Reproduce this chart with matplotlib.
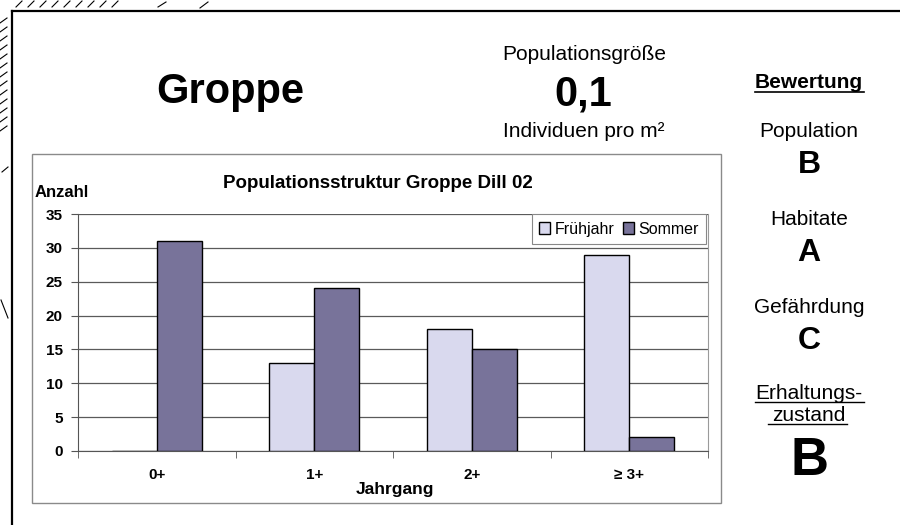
import numpy as np
import matplotlib.pyplot as plt
from matplotlib.patches import Rectangle

plt.rcParams["font.family"] = ["Liberation Sans", "DejaVu Sans"]

# Daten
jahrgang = ["0+", "1+", "2+", "≥ 3+"]
fruehjahr = [0, 13, 18, 29]
sommer = [31, 24, 15, 2]
art = "Groppe"
dichte = "0,1"
kriterien = ["Population", "Habitate", "Gefährdung"]
noten = ["B", "A", "C"]
erhaltung = "B"

W, H = 900, 525
col_f = "#d9d9ee"
col_s = "#78739a"

fig = plt.figure(figsize=(9, 5.25), dpi=100)

# Hintergrund-Achse in Pixelkoordinaten
bg = fig.add_axes([0, 0, 1, 1], zorder=0)
bg.set_xlim(0, W)
bg.set_ylim(H, 0)
bg.axis("off")

# Rahmen des Blattes
bg.plot([12, W + 5], [11, 11], color="black", lw=1.6)
bg.plot([12, 12], [11, H + 5], color="black", lw=1.6)

# Scan-Schraffur am Rand
for y in np.arange(18, 130, 9):
    bg.plot([0, 7], [y + 5, y], color="black", lw=0.8)
for x in np.arange(16, 120, 12):
    bg.plot([x, x + 6], [7, 1], color="black", lw=0.8)
bg.plot([2, 8], [172, 167], color="black", lw=0.8)
bg.plot([1, 8], [300, 318], color="black", lw=0.8)
bg.plot([158, 166], [7, 2], color="black", lw=0.8)
bg.plot([200, 208], [8, 2], color="black", lw=0.8)

# Diagrammrahmen
bg.add_patch(Rectangle((32, 154), 689, 349, facecolor="white",
                       edgecolor="#8a8a8a", lw=1.0))

# Kopfzeile
bg.text(230, 103, art, fontsize=30, fontweight="bold", ha="center", va="baseline")
bg.text(584, 60, "Populationsgröße", fontsize=15, ha="center", va="baseline")
bg.text(583, 106, dichte, fontsize=30, fontweight="bold", ha="center", va="baseline")
bg.text(584, 137, "Individuen pro m²", fontsize=15, ha="center", va="baseline")

# Bewertung rechts
cx = 809
bg.text(cx, 88, "Bewertung", fontsize=15, fontweight="bold", ha="center", va="baseline")
bg.plot([755, 864], [92, 92], color="black", lw=1.2)
for i, (k, n) in enumerate(zip(kriterien, noten)):
    y0 = 137 + i * 88
    bg.text(cx, y0, k, fontsize=15, ha="center", va="baseline")
    bg.text(cx, y0 + 36, n, fontsize=23, fontweight="bold", ha="center", va="baseline")
bg.text(cx, 399, "Erhaltungs-", fontsize=15, ha="center", va="baseline")
bg.plot([755, 864], [402, 402], color="black", lw=1.0)
bg.text(cx, 421, "zustand", fontsize=15, ha="center", va="baseline")
bg.plot([768, 847], [424, 424], color="black", lw=1.0)
bg.text(cx, 475, erhaltung, fontsize=38, fontweight="bold", ha="center", va="baseline")

# Diagrammtitel und Achsentitel
bg.text(378, 188, "Populationsstruktur Groppe Dill 02", fontsize=13.5,
        fontweight="bold", ha="center", va="baseline")
bg.text(35, 197, "Anzahl", fontsize=12, fontweight="bold", ha="left", va="baseline")
bg.text(395, 494, "Jahrgang", fontsize=12.5, fontweight="bold", ha="center", va="baseline")

# Balkendiagramm
ax = fig.add_axes([78 / W, (H - 451) / H, 630 / W, 237 / H], zorder=1)
x = np.arange(len(jahrgang))
bw = 1 / 3.5
ax.bar(x - bw / 2, fruehjahr, bw, color=col_f, edgecolor="black", lw=1.0,
       label="Frühjahr", zorder=3)
ax.bar(x + bw / 2, sommer, bw, color=col_s, edgecolor="black", lw=1.0,
       label="Sommer", zorder=3)

ax.set_xlim(-0.5, 3.5)
ax.set_ylim(0, 35)
ax.set_yticks(np.arange(0, 36, 5))
ax.yaxis.grid(True, color="#5a5a5a", lw=0.9)
ax.set_axisbelow(True)
ax.set_xticks(x)
ax.set_xticklabels(jahrgang)
ax.set_xticks(np.arange(-0.5, 4, 1), minor=True)
ax.tick_params(axis="x", which="major", length=0, pad=12, labelsize=11)
ax.tick_params(axis="x", which="minor", length=5, direction="out", color="#555")
ax.tick_params(axis="y", length=5, direction="out", color="#555", labelsize=11, pad=6)
for lab in ax.get_xticklabels() + ax.get_yticklabels():
    lab.set_fontweight("bold")

ax.spines["top"].set_visible(False)
ax.spines["right"].set_color("#9a9a9a")
ax.spines["left"].set_color("#555")
ax.spines["bottom"].set_color("#555")

leg = ax.legend(loc="upper right", bbox_to_anchor=(0.997, 0.998), ncol=2,
                fontsize=11.5, frameon=True, fancybox=False, edgecolor="#888",
                framealpha=1, handlelength=0.7, handleheight=0.7,
                handletextpad=0.3, columnspacing=0.5, borderpad=0.45,
                borderaxespad=0.0)
leg.get_frame().set_linewidth(0.8)

fig.savefig("out.png", dpi=100)
